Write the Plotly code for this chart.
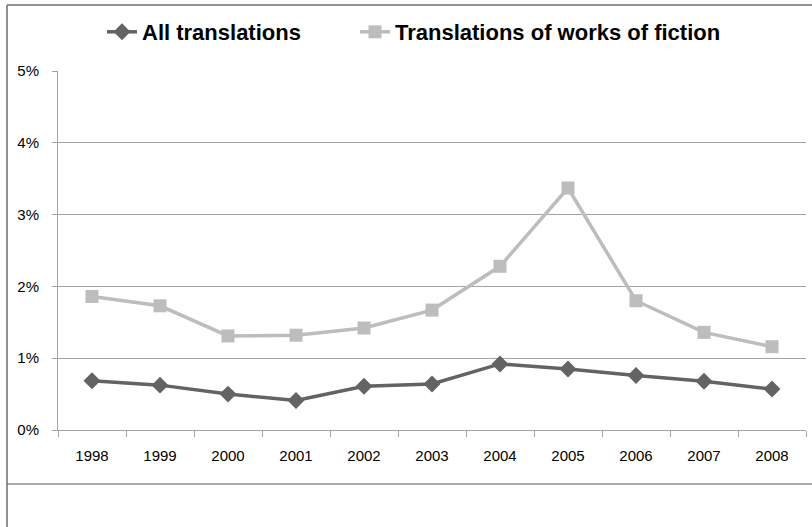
import plotly.graph_objects as go

years = ["1998", "1999", "2000", "2001", "2002", "2003", "2004", "2005", "2006", "2007", "2008"]
all_translations = [0.685, 0.625, 0.50, 0.41, 0.61, 0.64, 0.92, 0.85, 0.76, 0.68, 0.57]
fiction_translations = [1.86, 1.73, 1.31, 1.32, 1.42, 1.67, 2.28, 3.37, 1.80, 1.36, 1.16]
y_ticks = [0, 1, 2, 3, 4, 5]
y_tick_labels = ["0%", "1%", "2%", "3%", "4%", "5%"]

FONT = "Arial, 'Liberation Sans', sans-serif"
DARK = "#636363"
LIGHT = "#bdbdbd"
GRID = "#a3a3a3"

W, H = 812, 527
L, R, T, B = 58, 6, 71, 97
pw = W - L - R
ph = H - T - B

def px(x):
    return (x - L) / pw

def py(y):
    return (H - B - y) / ph

fig = go.Figure()
fig.add_trace(go.Scatter(
    x=years, y=all_translations, name="All translations", mode="lines+markers",
    line=dict(color=DARK, width=3.5),
    marker=dict(symbol="diamond", size=13, color=DARK),
    legend="legend",
))
fig.add_trace(go.Scatter(
    x=years, y=fiction_translations, name="Translations of works of fiction", mode="lines+markers",
    line=dict(color=LIGHT, width=3.5),
    marker=dict(symbol="square", size=13, color=LIGHT),
    legend="legend2",
))

legend_common = dict(
    orientation="h", yanchor="middle", xanchor="left",
    font=dict(family=FONT, size=22, color="black", weight="bold"),
    bgcolor="rgba(0,0,0,0)", borderwidth=0,
)

fig.update_layout(
    width=W, height=H,
    margin=dict(l=L, r=R, t=T, b=B, pad=0),
    paper_bgcolor="white", plot_bgcolor="white",
    font=dict(family=FONT, color="black", size=15),
    showlegend=True,
    legend=dict(x=px(102), y=py(32), **legend_common),
    legend2=dict(x=px(355), y=py(32), **legend_common),
    xaxis=dict(
        type="category", range=[-0.5, len(years) - 0.5], autorange=False,
        showgrid=False, showline=True, linecolor=GRID, linewidth=1,
        ticks="outside", tickson="boundaries", ticklen=6, tickcolor=GRID,
        tickfont=dict(size=15, family=FONT, color="black"), zeroline=False,
        ticklabelstandoff=12,
    ),
    yaxis=dict(
        range=[0, 5], autorange=False, tickvals=y_ticks, ticktext=y_tick_labels,
        showgrid=True, gridcolor=GRID, gridwidth=1,
        showline=True, linecolor=GRID, linewidth=1,
        ticks="outside", ticklen=5, tickcolor=GRID,
        tickfont=dict(size=15, family=FONT, color="black"), zeroline=False,
        ticklabelstandoff=10,
    ),
    shapes=[
        dict(type="line", xref="paper", yref="paper", x0=px(7), x1=px(812), y0=py(484), y1=py(484),
             line=dict(color="#8c8c8c", width=1.5)),
        dict(type="line", xref="paper", yref="paper", x0=px(7), x1=px(7), y0=py(5), y1=py(527),
             line=dict(color="#6e6e6e", width=1.5)),
        dict(type="line", xref="paper", yref="paper", x0=px(7), x1=px(812), y0=py(5), y1=py(5),
             line=dict(color="#6e6e6e", width=1.5)),
    ],
)

fig.write_html(
    "out.html",
    config={"displayModeBar": False},
    post_script="document.body.style.margin='0';document.body.style.padding='0';",
)
